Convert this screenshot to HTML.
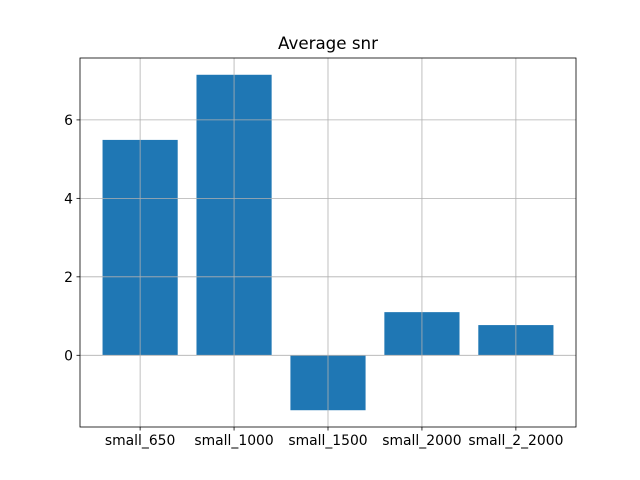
<!DOCTYPE html>
<html><head><meta charset="utf-8"><style>
body{margin:0;background:#fff;}
svg{display:block;font-family:"DejaVu Sans","Liberation Sans",sans-serif;}
</style></head><body>
<svg id="chart" width="640" height="480" xmlns="http://www.w3.org/2000/svg">
<rect x="0" y="0" width="640" height="480" fill="#fff"/>
<text x="328" y="49" text-anchor="middle" font-size="16.7">Average snr</text>
<g id="grid"></g>
<g id="bars"></g>
<g id="axes"></g>
</svg>
<script>
const categories = ["small_650","small_1000","small_1500","small_2000","small_2_2000"];
const values = [5.49, 7.15, -1.40, 1.10, 0.77];
const yTicks = [0, 2, 4, 6];

const L=80,R=576,T=58,B=427;
const NS="http://www.w3.org/2000/svg";
const vmin=Math.min(0,...values), vmax=Math.max(0,...values);
const pad=(vmax-vmin)*0.05;
const y0=vmin-pad, y1=vmax+pad;
const n=categories.length;
const x0=-0.4-0.05*(n-0.2), x1=n-1+0.4+0.05*(n-0.2);
const xs=v=>L+(v-x0)/(x1-x0)*(R-L);
const ys=v=>B-(v-y0)/(y1-y0)*(B-T);
function mk(tag,attrs,parent){const e=document.createElementNS(NS,tag);for(const k in attrs)e.setAttribute(k,attrs[k]);parent.appendChild(e);return e;}
const grid=document.getElementById('grid'),bars=document.getElementById('bars'),axes=document.getElementById('axes');
categories.forEach((c,i)=>{
  const x=xs(i);
  const b=mk('rect',{x:xs(i-0.4),y:ys(Math.max(0,values[i])),width:xs(i+0.4)-xs(i-0.4),height:Math.abs(ys(values[i])-ys(0)),fill:'#1f77b4'},bars);
  
  
  const tk=mk('line',{x1:x,x2:x,y1:B,y2:B+3.5,stroke:'#000','stroke-width':0.8},axes);
  
  
  const t=mk('text',{x:x,y:B+18,'text-anchor':'middle','font-size':13.9},axes);
  t.textContent=c;
  
  
});
yTicks.forEach(v=>{
  const y=ys(v);
  const tk=mk('line',{x1:L-3.5,x2:L,y1:y,y2:y,stroke:'#000','stroke-width':0.8},axes);
  
  
  const t=mk('text',{x:L-7,y:y+5,'text-anchor':'end','font-size':13.9},axes);
  t.textContent=v;
  
  
});
categories.forEach((c,i)=>{
  const g=mk('line',{x1:xs(i),x2:xs(i),y1:T,y2:B,stroke:'#b0b0b0','stroke-width':0.8},bars);
  
  
});
yTicks.forEach(v=>{
  const g=mk('line',{x1:L,x2:R,y1:ys(v),y2:ys(v),stroke:'#b0b0b0','stroke-width':0.8},bars);
  
  
});
const fr=mk('rect',{x:L,y:T,width:R-L,height:B-T,fill:'none',stroke:'#000','stroke-width':0.8},axes);


</script>
</body></html>
